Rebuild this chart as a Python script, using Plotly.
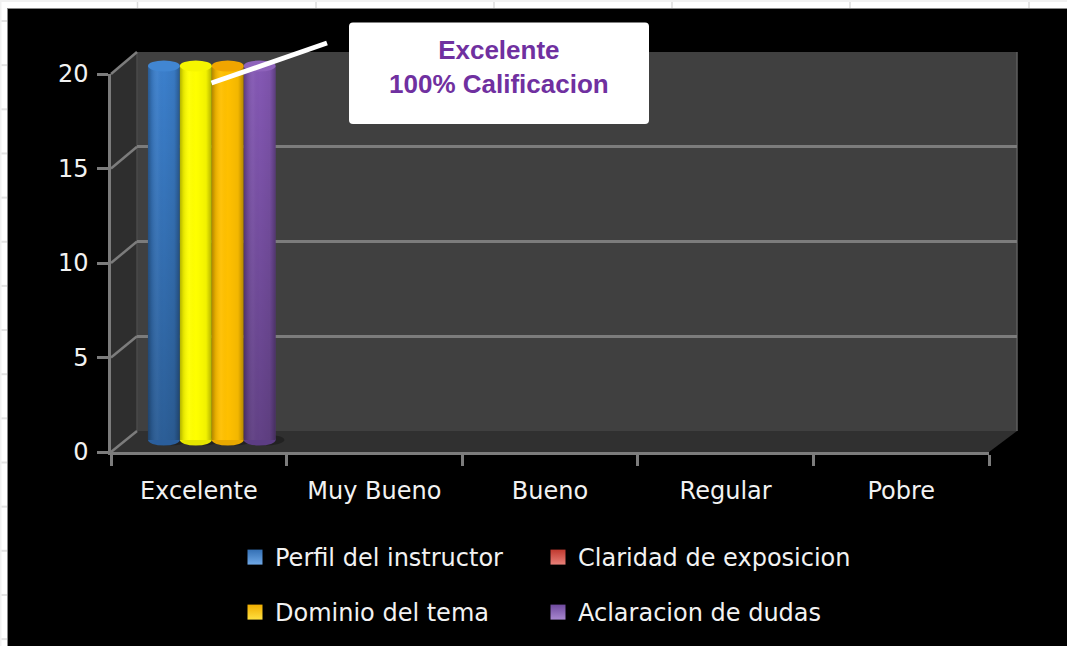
import plotly.graph_objects as go

W, H = 1067, 646

categories = ["Excelente", "Muy Bueno", "Bueno", "Regular", "Pobre"]
series_names = ["Perfil del instructor", "Claridad de exposicion", "Dominio del tema", "Aclaracion de dudas"]
perfil = [20, 0, 0, 0, 0]
claridad = [20, 0, 0, 0, 0]
dominio = [20, 0, 0, 0, 0]
aclaracion = [20, 0, 0, 0, 0]
series_values = [perfil, claridad, dominio, aclaracion]
bar_colors = ["#3b7fcc", "#ffff00", "#ffc000", "#8458b4"]
cap_colors = ["#4186d2", "#f6f600", "#f0a500", "#8e63bb"]
foot_colors = ["#2a5e9c", "#e6e600", "#e8a800", "#5c3d84"]
legend_colors = ["#3470b5", "#c0392f", "#f0ad00", "#6f4a9e"]
legend_light = ["#6fa8e6", "#e88078", "#ffe040", "#a888d0"]
darken_down = [0.26, 0.0, 0.0, 0.26]
y_ticks = [0, 5, 10, 15, 20]
callout_lines = ["Excelente", "100% Calificacion"]

GRID = "#7c7c7c"
TEXT = "#f2f2f2"
FONT = "DejaVu Sans"


def px(v):
    return v / W


def py(v):
    return 1 - v / H


def poly(points, color):
    path = "M" + "L".join(f"{px(a):.5f},{py(b):.5f}" for a, b in points) + "Z"
    return dict(type="path", path=path, xref="paper", yref="paper", fillcolor=color,
                line=dict(width=0), layer="below")


def seg(x0, y0, x1, y1, color, width, layer="below"):
    return dict(type="line", xref="paper", yref="paper", x0=px(x0), y0=py(y0), x1=px(x1), y1=py(y1),
                line=dict(color=color, width=width), layer=layer)


# frame geometry in pixels
front = dict(l=111, r=989, t=74, b=452)
back = dict(l=137, r=1017, t=52, b=431)
plane = dict(l=124, r=1002, t=66, b=440)
plane_pad_low = 1.0
plane_pad_high = 1.0
unit = (plane["b"] - plane["t"]) / 20

shapes = []
# spreadsheet behind the chart
shapes.append(dict(type="rect", xref="paper", yref="paper", x0=0, x1=1, y0=py(2), y1=1,
                   fillcolor="#f1f1f1", line=dict(width=0), layer="below"))
shapes.append(dict(type="rect", xref="paper", yref="paper", x0=0, x1=px(1.5), y0=0, y1=1,
                   fillcolor="#f1f1f1", line=dict(width=0), layer="below"))
for xv in [137.5, 316, 494, 672, 850, 1029]:
    shapes.append(seg(xv, 2, xv, 9, "#dcdcdc", 1.5))
for k in range(15):
    yv = 21 + 44.15 * k
    shapes.append(seg(1.5, yv, 8, yv, "#e2e2e2", 2))
shapes.append(dict(type="rect", xref="paper", yref="paper", x0=px(7), x1=1, y0=0, y1=py(8),
                   fillcolor="#8a8a8a", line=dict(width=0), layer="below"))
shapes.append(dict(type="rect", xref="paper", yref="paper", x0=px(8), x1=1, y0=0, y1=py(9),
                   fillcolor="#000000", line=dict(width=0), layer="below"))
# walls
shapes.append(poly([(front["l"], front["t"]), (back["l"], back["t"]), (back["l"], back["b"]),
                    (front["l"], front["b"])], "#2e2e2e"))
shapes.append(poly([(front["l"], front["b"]), (back["l"], back["b"]), (back["r"], back["b"]),
                    (front["r"], front["b"])], "#303030"))
shapes.append(poly([(back["l"], back["t"]), (back["r"], back["t"]), (back["r"], back["b"]),
                    (back["l"], back["b"])], "#404040"))
shapes.append(seg(back["r"], back["t"], back["r"], back["b"], "#5e5e5e", 1.5))
shapes.append(seg(back["l"], back["t"], back["l"], back["b"], "#4a4a4a", 1.5))
# side wall grid segments, one per tick
for t in y_ticks:
    yf = front["b"] + (front["t"] - front["b"]) * t / 20
    yb = back["b"] + (back["t"] - back["b"]) * t / 20
    shapes.append(seg(front["l"], yf, back["l"], yb, GRID, 2.5))

n = len(series_values)
gap = 1 - 128 / 176
w = (1 - gap) / n
dy = 5.5 / unit


def bar_span(cat_index, k):
    left = cat_index - (1 - gap) / 2 + k * w
    return left, left + w


for k, vals in enumerate(series_values):
    for i, v in enumerate(vals):
        if v <= 0:
            continue
        a, b = bar_span(i, k)
        shapes.append(dict(type="circle", xref="x3", yref="y3", x0=a, x1=b + 0.05, y0=-dy, y1=dy,
                           fillcolor="rgba(0,0,0,0.28)", line=dict(width=0), layer="below"))
        shapes.append(dict(type="circle", xref="x3", yref="y3", x0=a, x1=b, y0=-dy, y1=dy,
                           fillcolor=foot_colors[k], line=dict(width=0), layer="below"))
        shapes.append(dict(type="circle", xref="x3", yref="y3", x0=a, x1=b, y0=v - dy, y1=v + dy,
                           fillcolor=cap_colors[k], line=dict(width=0), layer="above"))

# callout box and pointer
r = 4
bx0, bx1, by0, by1 = 349, 649, 22.5, 124
box = (f"M{px(bx0 + r):.5f},{py(by0):.5f}L{px(bx1 - r):.5f},{py(by0):.5f}"
       f"Q{px(bx1):.5f},{py(by0):.5f} {px(bx1):.5f},{py(by0 + r):.5f}"
       f"L{px(bx1):.5f},{py(by1 - r):.5f}Q{px(bx1):.5f},{py(by1):.5f} {px(bx1 - r):.5f},{py(by1):.5f}"
       f"L{px(bx0 + r):.5f},{py(by1):.5f}Q{px(bx0):.5f},{py(by1):.5f} {px(bx0):.5f},{py(by1 - r):.5f}"
       f"L{px(bx0):.5f},{py(by0 + r):.5f}Q{px(bx0):.5f},{py(by0):.5f} {px(bx0 + r):.5f},{py(by0):.5f}Z")
shapes.append(dict(type="path", path=box, xref="paper", yref="paper", fillcolor="#ffffff",
                   line=dict(width=0), layer="above"))
shapes.append(seg(211.5, 83, 327, 43, "#ffffff", 5, layer="above"))

fig = go.Figure()

fig.add_trace(go.Scatter(x=categories, y=[None] * len(categories), xaxis="x", yaxis="y",
                         mode="markers", showlegend=False, hoverinfo="skip"))
fig.add_trace(go.Scatter(x=[0], y=[None], xaxis="x2", yaxis="y2", mode="markers",
                         showlegend=False, hoverinfo="skip"))

for k, vals in enumerate(series_values):
    fig.add_trace(go.Bar(x=list(range(len(categories))), y=vals, name=series_names[k], xaxis="x3", yaxis="y3",
                         marker=dict(color=bar_colors[k], line=dict(width=0)), showlegend=False,
                         hovertext=categories))

h_scale = [[0, "rgba(0,0,0,0.3)"], [0.12, "rgba(0,0,0,0.1)"], [0.3, "rgba(255,255,255,0.04)"],
           [0.5, "rgba(0,0,0,0)"], [0.82, "rgba(0,0,0,0.05)"], [1, "rgba(0,0,0,0.3)"]]
for k, vals in enumerate(series_values):
    for i, v in enumerate(vals):
        if v <= 0:
            continue
        a, b = bar_span(i, k)
        rect_x = [a, b, b, a, a]
        rect_y = [0, 0, v, v, 0]
        fig.add_trace(go.Scatter(x=rect_x, y=rect_y, xaxis="x3", yaxis="y3", mode="lines", fill="toself",
                                 line=dict(width=0), hoverinfo="skip", showlegend=False,
                                 fillgradient=dict(type="horizontal", colorscale=h_scale)))
        if darken_down[k] > 0:
            v_scale = [[0, f"rgba(0,0,0,{darken_down[k]})"], [1, "rgba(0,0,0,0)"]]
            fig.add_trace(go.Scatter(x=rect_x, y=rect_y, xaxis="x3", yaxis="y3", mode="lines", fill="toself",
                                     line=dict(width=0), hoverinfo="skip", showlegend=False,
                                     fillgradient=dict(type="vertical", colorscale=v_scale)))

legend_ids = ["legend", "legend2", "legend3", "legend4"]
for k, name in enumerate(series_names):
    fig.add_trace(go.Scatter(x=[None], y=[None], name=name, mode="markers", legend=legend_ids[k],
                             xaxis="x3", yaxis="y3",
                             marker=dict(symbol="square", size=15, color=legend_colors[k],
                                         line=dict(width=0),
                                         gradient=dict(type="vertical", color=legend_light[k]))))

legend_at = [(235, 535), (538, 535), (235, 590), (538, 590)]


def legend_cfg(pos):
    return dict(x=px(pos[0]), y=py(pos[1]), xanchor="left", yanchor="top", bgcolor="rgba(0,0,0,0)",
                borderwidth=0, font=dict(family=FONT, size=24, color=TEXT))


axis_common = dict(showgrid=False, zeroline=False, automargin=False)
fig.update_layout(
    width=W, height=H, margin=dict(l=0, r=0, t=0, b=0, autoexpand=False), autosize=False,
    paper_bgcolor="#ffffff", plot_bgcolor="rgba(0,0,0,0)",
    barmode="group", bargap=gap, bargroupgap=0,
    shapes=shapes, showlegend=True,
    legend=legend_cfg(legend_at[0]), legend2=legend_cfg(legend_at[1]),
    legend3=legend_cfg(legend_at[2]), legend4=legend_cfg(legend_at[3]),
    xaxis=dict(domain=[px(front["l"]), px(front["r"])], anchor="y", type="category", categoryorder="array",
               categoryarray=categories, range=[-0.5, len(categories) - 0.5], tickmode="array",
               tickvals=categories, ticktext=categories,
               tickson="boundaries", ticks="outside", ticklen=11, tickwidth=2.5, tickcolor=GRID,
               showline=True, linecolor=GRID, linewidth=2.5, ticklabelstandoff=15,
               tickfont=dict(family=FONT, size=24, color=TEXT), **axis_common),
    yaxis=dict(domain=[py(front["b"]), py(front["t"])], anchor="x", range=[0, 20], tickmode="array",
               tickvals=y_ticks, ticks="outside", ticklen=11, tickwidth=2.5, tickcolor=GRID,
               showline=True, linecolor=GRID, linewidth=2.5, ticklabelstandoff=4,
               tickfont=dict(family=FONT, size=24, color=TEXT), **axis_common),
    xaxis2=dict(domain=[px(back["l"]), px(back["r"])], anchor="y2", range=[0, 1], visible=False),
    yaxis2=dict(domain=[py(back["b"]), py(back["t"])], anchor="x2", range=[0, 20], tickmode="array",
                tickvals=y_ticks, showgrid=True, gridcolor=GRID, gridwidth=2.5, zeroline=False,
                showticklabels=False, ticks="", showline=False, automargin=False),
    xaxis3=dict(domain=[px(plane["l"]), px(plane["r"])], anchor="y3", range=[-0.5, len(categories) - 0.5],
                visible=False),
    yaxis3=dict(domain=[py(plane["b"] + plane_pad_low * unit), py(plane["t"] - plane_pad_high * unit)],
                anchor="x3", range=[-plane_pad_low, 20 + plane_pad_high], visible=False),
    annotations=[dict(xref="paper", yref="paper", x=px(498.5), y=py(67), xanchor="center", yanchor="middle",
                      text="<br>".join(callout_lines), showarrow=False, align="center",
                      font=dict(family="Liberation Sans", size=26, color="#7030a0", weight="bold"))],
)

fig.write_html("out.html", post_script="document.body.style.margin='0';document.body.style.overflow='hidden';",
               config=dict(displayModeBar=False))
